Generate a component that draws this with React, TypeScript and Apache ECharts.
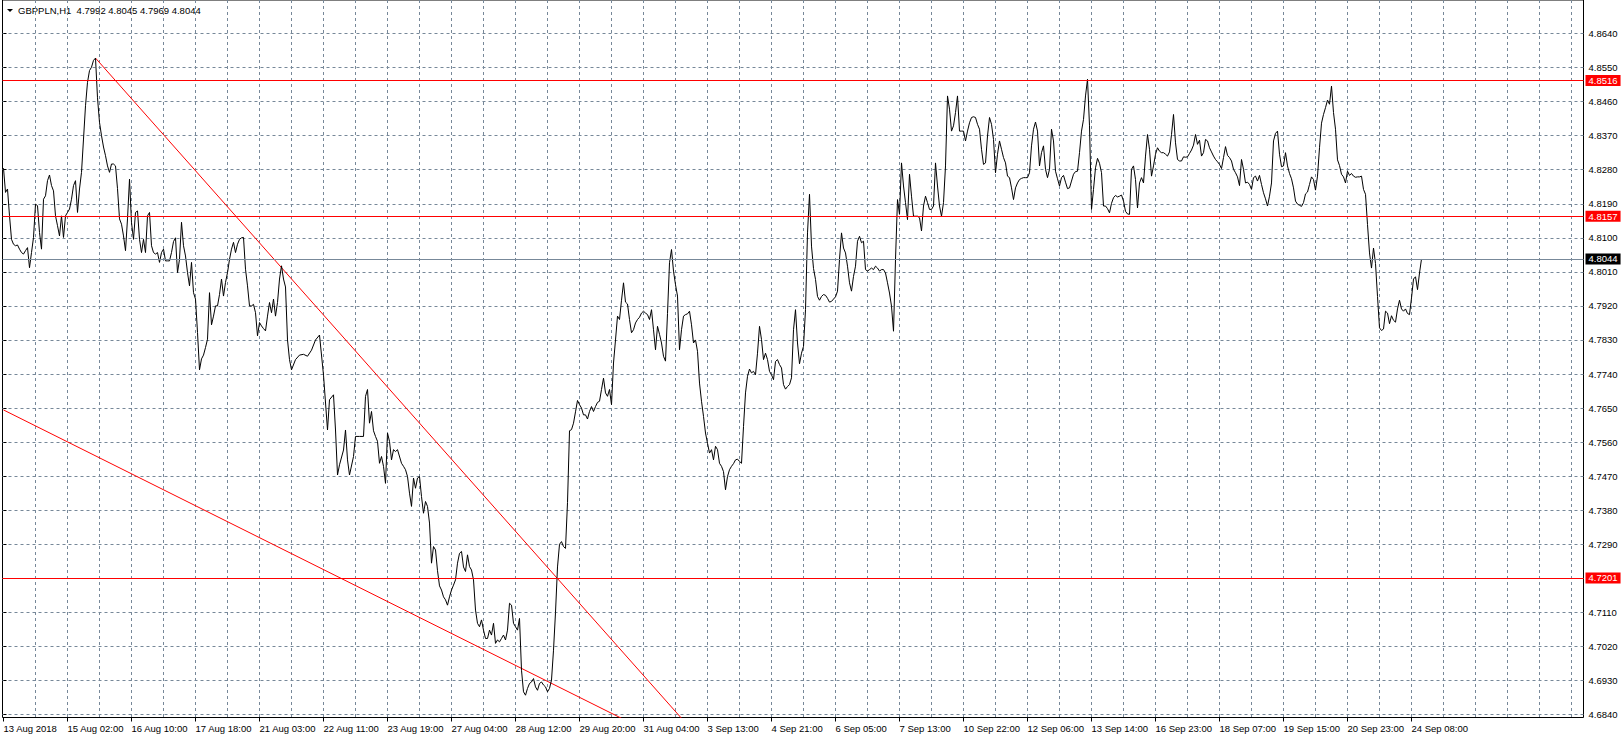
import React, { useEffect, useRef } from 'react';
import * as echarts from 'echarts';

// ---------- data ----------
const symbolName = 'GBPPLN,H1';
const lastOhlc = ['4.7992', '4.8045', '4.7969', '4.8044'];

// one label every 32 hourly bars (bar index 0, 32, 64, ...)
const timeLabels = [
  '13 Aug 2018', '15 Aug 02:00', '16 Aug 10:00', '17 Aug 18:00', '21 Aug 03:00',
  '22 Aug 11:00', '23 Aug 19:00', '27 Aug 04:00', '28 Aug 12:00', '29 Aug 20:00',
  '31 Aug 04:00', '3 Sep 13:00', '4 Sep 21:00', '6 Sep 05:00', '7 Sep 13:00',
  '10 Sep 22:00', '12 Sep 06:00', '13 Sep 14:00', '16 Sep 23:00', '18 Sep 07:00',
  '19 Sep 15:00', '20 Sep 23:00', '24 Sep 08:00',
];

const priceTicks = [
  4.6840, 4.6930, 4.7020, 4.7110, 4.7200, 4.7290, 4.7380, 4.7470, 4.7560, 4.7650,
  4.7740, 4.7830, 4.7920, 4.8010, 4.8100, 4.8190, 4.8280, 4.8370, 4.8460, 4.8550, 4.8640,
];
const hiddenPriceLabel = 4.7200;

const levelLines = [4.8516, 4.8157, 4.7201];
const bidPrice = 4.8044;

// trend lines: [bar index, price] anchors read at the chart edges
const upperTrend = [[46, 4.8575], [339, 4.6830]];
const lowerTrend = [[0, 4.7645], [309, 4.6830]];

// hourly closes: [bar index, close]
const closes: [number, number][] = [
  [0, 4.8284], [1, 4.8220], [2, 4.8229], [3, 4.8158], [4, 4.8096], [5, 4.8083], [6, 4.8079], [7, 4.8081],
  [8, 4.8070], [9, 4.8061], [10, 4.8057], [11, 4.8066], [12, 4.8074], [13, 4.8021], [14, 4.8061], [15, 4.8101],
  [16, 4.8189], [17, 4.8185], [18, 4.8114], [19, 4.8070], [20, 4.8202], [21, 4.8211], [22, 4.8251], [23, 4.8266],
  [24, 4.8238], [25, 4.8224], [26, 4.8158], [27, 4.8132], [28, 4.8105], [29, 4.8158], [30, 4.8101], [31, 4.8158],
  [32, 4.8167], [33, 4.8176], [34, 4.8202], [35, 4.8238], [36, 4.8251], [37, 4.8167], [38, 4.8229], [39, 4.8273],
  [40, 4.8361], [41, 4.8449], [42, 4.8511], [43, 4.8542], [44, 4.8551], [45, 4.8569], [46, 4.8575], [47, 4.8470],
  [48, 4.8405], [49, 4.8370], [50, 4.8340], [51, 4.8317], [52, 4.8290], [53, 4.8273], [54, 4.8295], [55, 4.8295],
  [56, 4.8290], [57, 4.8230], [58, 4.8150], [59, 4.8136], [60, 4.8105], [61, 4.8066], [62, 4.8150], [63, 4.8255],
  [64, 4.8140], [65, 4.8096], [66, 4.8167], [67, 4.8171], [68, 4.8096], [69, 4.8061], [70, 4.8096], [71, 4.8061],
  [72, 4.8158], [73, 4.8167], [74, 4.8079], [75, 4.8061], [76, 4.8057], [77, 4.8061], [78, 4.8035], [79, 4.8061],
  [80, 4.8070], [81, 4.8039], [82, 4.8039], [83, 4.8039], [84, 4.8061], [85, 4.8090], [86, 4.8100], [87, 4.8008],
  [88, 4.8043], [89, 4.8141], [90, 4.8079], [91, 4.8052], [92, 4.8008], [93, 4.7973], [94, 4.8035], [95, 4.7955],
  [96, 4.7938], [97, 4.7850], [98, 4.7751], [99, 4.7780], [100, 4.7790], [101, 4.7810], [102, 4.7832], [103, 4.7955],
  [104, 4.7870], [105, 4.7893], [106, 4.7920], [107, 4.7920], [108, 4.7950], [109, 4.7991], [110, 4.7946], [111, 4.7982],
  [112, 4.8008], [113, 4.8043], [114, 4.8070], [115, 4.8088], [116, 4.8061], [117, 4.8083], [118, 4.8096], [119, 4.8100],
  [120, 4.8101], [121, 4.8017], [122, 4.7973], [123, 4.7920], [124, 4.7920], [125, 4.7924], [126, 4.7902], [127, 4.7841],
  [128, 4.7876], [129, 4.7867], [130, 4.7860], [131, 4.7854], [132, 4.7893], [133, 4.7929], [134, 4.7902], [135, 4.7938],
  [136, 4.7893], [137, 4.7929], [138, 4.7991], [139, 4.8026], [140, 4.7991], [141, 4.7970], [142, 4.7830], [143, 4.7778],
  [144, 4.7751], [146, 4.7778], [148, 4.7790], [150, 4.7792], [152, 4.7787], [154, 4.7803], [156, 4.7830], [158, 4.7843],
  [160, 4.7737], [162, 4.7592], [163, 4.7672], [165, 4.7685], [166, 4.7592], [167, 4.7473], [168, 4.7500], [170, 4.7539],
  [171, 4.7592], [172, 4.7513], [173, 4.7473], [175, 4.7522], [176, 4.7575], [178, 4.7575], [180, 4.7575], [181, 4.7681],
  [182, 4.7699], [183, 4.7610], [184, 4.7641], [185, 4.7590], [186, 4.7575], [187, 4.7562], [188, 4.7504], [189, 4.7522],
  [190, 4.7496], [191, 4.7451], [192, 4.7584], [193, 4.7562], [194, 4.7513], [195, 4.7540], [196, 4.7535], [197, 4.7540],
  [199, 4.7504], [200, 4.7496], [201, 4.7487], [202, 4.7469], [203, 4.7425], [204, 4.7390], [205, 4.7465], [206, 4.7438],
  [207, 4.7465], [208, 4.7469], [209, 4.7416], [210, 4.7372], [211, 4.7403], [212, 4.7390], [213, 4.7346], [214, 4.7240],
  [215, 4.7284], [216, 4.7275], [217, 4.7220], [218, 4.7180], [219, 4.7169], [220, 4.7151], [221, 4.7143], [222, 4.7129],
  [223, 4.7151], [224, 4.7169], [225, 4.7182], [226, 4.7196], [227, 4.7240], [228, 4.7266], [229, 4.7271], [230, 4.7230],
  [231, 4.7218], [232, 4.7262], [233, 4.7231], [234, 4.7222], [235, 4.7196], [236, 4.7116], [237, 4.7081], [238, 4.7072],
  [239, 4.7090], [240, 4.7063], [241, 4.7041], [242, 4.7041], [243, 4.7063], [244, 4.7050], [245, 4.7081], [246, 4.7028],
  [247, 4.7037], [248, 4.7032], [249, 4.7041], [250, 4.7050], [251, 4.7037], [252, 4.7063], [253, 4.7134], [254, 4.7129],
  [255, 4.7081], [256, 4.7072], [257, 4.7063], [258, 4.7094], [259, 4.6957], [260, 4.6900], [261, 4.6891], [262, 4.6909],
  [263, 4.6922], [264, 4.6926], [265, 4.6935], [266, 4.6913], [267, 4.6904], [268, 4.6922], [269, 4.6926], [270, 4.6918],
  [271, 4.6913], [272, 4.6900], [273, 4.6909], [274, 4.6931], [275, 4.7010], [276, 4.7110], [277, 4.7230], [278, 4.7290],
  [279, 4.7297], [280, 4.7284], [281, 4.7279], [282, 4.7400], [283, 4.7590], [284, 4.7593], [285, 4.7610], [286, 4.7640],
  [287, 4.7670], [288, 4.7659], [289, 4.7650], [290, 4.7632], [291, 4.7632], [292, 4.7621], [293, 4.7641], [294, 4.7654],
  [295, 4.7641], [296, 4.7654], [297, 4.7665], [298, 4.7668], [299, 4.7699], [300, 4.7729], [301, 4.7690], [302, 4.7681],
  [303, 4.7699], [304, 4.7659], [305, 4.7769], [306, 4.7830], [307, 4.7893], [308, 4.7884], [309, 4.7935], [310, 4.7981],
  [311, 4.7930], [312, 4.7925], [313, 4.7884], [314, 4.7849], [315, 4.7857], [316, 4.7875], [317, 4.7884], [318, 4.7890],
  [319, 4.7901], [320, 4.7906], [321, 4.7901], [322, 4.7897], [323, 4.7884], [324, 4.7910], [325, 4.7857], [326, 4.7804],
  [327, 4.7866], [328, 4.7845], [329, 4.7822], [330, 4.7787], [331, 4.7774], [332, 4.7900], [333, 4.8034], [334, 4.8069],
  [335, 4.8012], [336, 4.7976], [337, 4.7946], [338, 4.7804], [339, 4.7857], [340, 4.7893], [341, 4.7897], [342, 4.7899],
  [343, 4.7906], [344, 4.7870], [345, 4.7822], [346, 4.7830], [347, 4.7800], [348, 4.7716], [349, 4.7668], [350, 4.7628],
  [351, 4.7584], [352, 4.7557], [353, 4.7531], [354, 4.7540], [355, 4.7513], [356, 4.7549], [357, 4.7540], [358, 4.7504],
  [359, 4.7496], [360, 4.7482], [361, 4.7434], [362, 4.7469], [363, 4.7487], [364, 4.7496], [365, 4.7503], [366, 4.7513],
  [367, 4.7515], [368, 4.7509], [369, 4.7504], [370, 4.7601], [371, 4.7690], [372, 4.7734], [373, 4.7753], [374, 4.7743],
  [375, 4.7747], [376, 4.7738], [377, 4.7795], [378, 4.7866], [379, 4.7831], [380, 4.7778], [381, 4.7795], [382, 4.7778],
  [383, 4.7747], [384, 4.7738], [385, 4.7725], [386, 4.7773], [387, 4.7778], [388, 4.7765], [389, 4.7756], [390, 4.7712],
  [391, 4.7700], [392, 4.7707], [393, 4.7712], [394, 4.7730], [395, 4.7857], [396, 4.7910], [397, 4.7822], [398, 4.7767],
  [399, 4.7795], [400, 4.7813], [401, 4.7910], [402, 4.8113], [403, 4.8215], [404, 4.8078], [405, 4.8019], [406, 4.7990],
  [407, 4.7945], [408, 4.7935], [409, 4.7945], [410, 4.7950], [411, 4.7948], [412, 4.7940], [413, 4.7930], [414, 4.7932],
  [415, 4.7938], [416, 4.7944], [417, 4.7959], [418, 4.8043], [419, 4.8113], [420, 4.8073], [421, 4.8060], [422, 4.8025],
  [423, 4.7981], [424, 4.7959], [425, 4.7998], [426, 4.8025], [427, 4.8091], [428, 4.8104], [429, 4.8087], [430, 4.8091],
  [431, 4.8016], [432, 4.8012], [433, 4.8016], [434, 4.8020], [435, 4.8016], [436, 4.8025], [437, 4.8020], [438, 4.8012],
  [439, 4.8016], [440, 4.8016], [441, 4.8007], [442, 4.7981], [443, 4.7954], [444, 4.7919], [445, 4.7853], [446, 4.8043],
  [447, 4.8201], [448, 4.8162], [449, 4.8298], [450, 4.8237], [451, 4.8193], [452, 4.8148], [453, 4.8268], [454, 4.8210],
  [455, 4.8157], [456, 4.8157], [457, 4.8157], [458, 4.8153], [459, 4.8118], [460, 4.8184], [461, 4.8210], [462, 4.8193],
  [463, 4.8175], [464, 4.8175], [465, 4.8184], [466, 4.8298], [467, 4.8237], [468, 4.8184], [469, 4.8157], [470, 4.8193],
  [471, 4.8290], [472, 4.8475], [473, 4.8440], [474, 4.8382], [475, 4.8396], [476, 4.8431], [477, 4.8475], [478, 4.8382],
  [479, 4.8382], [480, 4.8382], [481, 4.8356], [482, 4.8382], [483, 4.8404], [484, 4.8418], [485, 4.8420], [486, 4.8418],
  [487, 4.8400], [488, 4.8387], [489, 4.8334], [490, 4.8294], [491, 4.8298], [492, 4.8369], [493, 4.8418], [494, 4.8400],
  [495, 4.8360], [496, 4.8272], [497, 4.8321], [498, 4.8356], [499, 4.8334], [500, 4.8312], [501, 4.8298], [502, 4.8263],
  [503, 4.8259], [504, 4.8232], [505, 4.8201], [506, 4.8232], [507, 4.8245], [508, 4.8254], [509, 4.8257], [510, 4.8259],
  [511, 4.8259], [512, 4.8259], [513, 4.8272], [514, 4.8343], [515, 4.8387], [516, 4.8406], [517, 4.8382], [518, 4.8290],
  [519, 4.8325], [520, 4.8343], [521, 4.8281], [522, 4.8259], [523, 4.8281], [524, 4.8387], [525, 4.8356], [526, 4.8276],
  [527, 4.8256], [528, 4.8237], [529, 4.8259], [530, 4.8265], [531, 4.8247], [532, 4.8230], [533, 4.8232], [534, 4.8250],
  [535, 4.8268], [536, 4.8275], [537, 4.8276], [538, 4.8325], [539, 4.8382], [540, 4.8413], [541, 4.8475], [542, 4.8519],
  [543, 4.8396], [544, 4.8175], [545, 4.8228], [546, 4.8285], [547, 4.8310], [548, 4.8297], [549, 4.8272], [550, 4.8184],
  [551, 4.8184], [552, 4.8177], [553, 4.8166], [554, 4.8191], [555, 4.8206], [556, 4.8212], [557, 4.8208], [558, 4.8210],
  [559, 4.8213], [560, 4.8197], [561, 4.8170], [562, 4.8163], [563, 4.8162], [564, 4.8281], [565, 4.8290], [566, 4.8254],
  [567, 4.8179], [568, 4.8245], [569, 4.8259], [570, 4.8245], [571, 4.8316], [572, 4.8373], [573, 4.8334], [574, 4.8263],
  [575, 4.8290], [576, 4.8321], [577, 4.8338], [578, 4.8329], [579, 4.8325], [580, 4.8325], [581, 4.8321], [582, 4.8316],
  [583, 4.8327], [584, 4.8373], [585, 4.8426], [586, 4.8351], [587, 4.8307], [588, 4.8303], [589, 4.8303], [590, 4.8314],
  [591, 4.8313], [592, 4.8314], [593, 4.8323], [594, 4.8332], [595, 4.8345], [596, 4.8373], [597, 4.8347], [598, 4.8358],
  [599, 4.8316], [600, 4.8325], [601, 4.8360], [602, 4.8356], [603, 4.8338], [604, 4.8327], [605, 4.8316], [606, 4.8307],
  [607, 4.8301], [608, 4.8294], [609, 4.8283], [610, 4.8312], [611, 4.8341], [612, 4.8318], [613, 4.8312], [614, 4.8303],
  [615, 4.8281], [616, 4.8272], [617, 4.8261], [618, 4.8238], [619, 4.8307], [620, 4.8281], [621, 4.8245], [622, 4.8247],
  [623, 4.8241], [624, 4.8228], [625, 4.8259], [626, 4.8263], [627, 4.8250], [628, 4.8265], [629, 4.8241], [630, 4.8219],
  [631, 4.8203], [632, 4.8184], [633, 4.8210], [634, 4.8245], [635, 4.8356], [636, 4.8376], [637, 4.8382], [638, 4.8321],
  [639, 4.8288], [640, 4.8290], [641, 4.8325], [642, 4.8290], [643, 4.8270], [644, 4.8256], [645, 4.8232], [646, 4.8197],
  [647, 4.8189], [648, 4.8186], [649, 4.8183], [650, 4.8193], [651, 4.8216], [652, 4.8221], [653, 4.8241], [654, 4.8261],
  [655, 4.8254], [656, 4.8226], [657, 4.8263], [658, 4.8338], [659, 4.8403], [660, 4.8426], [661, 4.8444], [662, 4.8464],
  [663, 4.8453], [664, 4.8501], [665, 4.8431], [666, 4.8387], [667, 4.8306], [668, 4.8291], [669, 4.8268], [670, 4.8261],
  [671, 4.8245], [672, 4.8276], [673, 4.8265], [674, 4.8270], [675, 4.8263], [676, 4.8260], [677, 4.8261], [678, 4.8261],
  [679, 4.8263], [680, 4.8228], [681, 4.8215], [682, 4.8135], [683, 4.8060], [684, 4.8020], [685, 4.8073], [686, 4.8032],
  [687, 4.7945], [688, 4.7862], [689, 4.7855], [690, 4.7859], [691, 4.7906], [692, 4.7901], [693, 4.7873], [694, 4.7894],
  [695, 4.7882], [696, 4.7877], [697, 4.7912], [698, 4.7935], [699, 4.7912], [700, 4.7906], [701, 4.7912], [702, 4.7900],
  [703, 4.7897], [704, 4.7941], [705, 4.7991], [706, 4.7997], [707, 4.7963], [708, 4.8007], [709, 4.8044],
];

// ---------- presentation ----------
const GRID_COLOR = '#778899';
const FONT = 'Liberation Sans, Arial, sans-serif';
const FS = 9.5;
const barsPerLabel = 32;
const barsPerGrid = 16;
const xMin = -0.5;
const xMax = 790;
const yMin = 4.683207;
const yMax = 4.872855;

export default function App() {
  const ref = useRef<HTMLDivElement>(null);

  useEffect(() => {
    if (!ref.current) return;
    const chart = echarts.init(ref.current, null, { renderer: 'svg' });

    const labelBars = timeLabels.map((_, i) => i * barsPerLabel);
    const gridBars: number[] = [];
    for (let b = barsPerGrid; b < xMax; b += barsPerGrid) gridBars.push(b);
    const yLabelValues = priceTicks.filter((v) => Math.abs(v - hiddenPriceLabel) > 1e-7);

    const boxLabel = (bg: string, v: number) => ({
      show: true,
      position: 'end',
      distance: 2,
      formatter: v.toFixed(4),
      color: '#ffffff',
      backgroundColor: bg,
      padding: [1, 3, 0, 3],
      fontFamily: FONT,
      fontSize: FS,
      lineHeight: 10,
    });

    const option: any = {
      animation: false,
      backgroundColor: '#ffffff',
      textStyle: { fontFamily: FONT },
      grid: {
        left: 2.5,
        right: 39.5,
        top: 0,
        bottom: 21.5,
        show: true,
        borderColor: '#000000',
        borderWidth: 1,
        backgroundColor: 'transparent',
      },
      graphic: [
        {
          type: 'polygon',
          shape: { points: [[7, 9], [13, 9], [10, 12]] },
          style: { fill: '#000000' },
          silent: true,
        },
        {
          type: 'text',
          x: 18,
          y: 10.5,
          style: {
            text: `${symbolName}  ${lastOhlc.join(' ')}`,
            fill: '#000000',
            font: `${FS}px ${FONT}`,
            verticalAlign: 'middle',
          },
          silent: true,
        },
      ],
      xAxis: [
        {
          type: 'value',
          min: xMin,
          max: xMax,
          position: 'bottom',
          axisLine: { show: false },
          axisTick: { show: false, customValues: gridBars },
          splitLine: { show: true, lineStyle: { color: GRID_COLOR, type: [3, 3], width: 1 } },
          axisLabel: {
            show: true,
            customValues: labelBars,
            formatter: (v: number) => timeLabels[Math.round(v / barsPerLabel)] ?? '',
            align: 'left',
            color: '#000000',
            fontFamily: FONT,
            fontSize: FS,
            margin: 6,
            showMinLabel: true,
            showMaxLabel: true,
            hideOverlap: false,
          },
        },
        {
          type: 'value',
          min: xMin,
          max: xMax,
          position: 'bottom',
          axisLine: { show: false },
          axisTick: { show: true, customValues: labelBars, length: 4, lineStyle: { color: '#000000' } },
          axisLabel: { show: false },
          splitLine: { show: false },
        },
      ],
      yAxis: {
        type: 'value',
        position: 'right',
        min: yMin,
        max: yMax,
        axisLine: { show: false },
        axisTick: { show: true, customValues: priceTicks, length: 3, lineStyle: { color: '#000000' } },
        splitLine: { show: true, lineStyle: { color: GRID_COLOR, type: [3, 3], width: 1 } },
        axisLabel: {
          show: true,
          customValues: yLabelValues,
          formatter: (v: number) => v.toFixed(4),
          color: '#000000',
          fontFamily: FONT,
          fontSize: FS,
          margin: 5,
          showMinLabel: true,
          showMaxLabel: true,
        },
      },
      series: [
        {
          name: 'upper trend',
          type: 'line',
          data: upperTrend,
          showSymbol: false,
          symbol: 'none',
          clip: true,
          lineStyle: { color: '#ff0000', width: 1 },
          silent: true,
          z: 3,
        },
        {
          name: 'lower trend',
          type: 'line',
          data: lowerTrend,
          showSymbol: false,
          symbol: 'none',
          clip: true,
          lineStyle: { color: '#ff0000', width: 1 },
          silent: true,
          z: 3,
        },
        {
          name: symbolName,
          type: 'line',
          data: closes,
          showSymbol: false,
          symbol: 'none',
          clip: true,
          lineStyle: { color: '#000000', width: 1 },
          silent: true,
          z: 4,
          markLine: {
            silent: true,
            precision: 4,
            symbol: ['none', 'none'],
            animation: false,
            data: [
              ...levelLines.map((v) => ({
                yAxis: v,
                lineStyle: { color: '#ff0000', type: 'solid', width: 1 },
                label: boxLabel('#ff0000', v),
              })),
              {
                yAxis: bidPrice,
                lineStyle: { color: GRID_COLOR, type: 'solid', width: 1 },
                label: boxLabel('#000000', bidPrice),
              },
            ],
          },
        },
      ],
    };

    chart.setOption(option);
    return () => chart.dispose();
  }, []);

  return (
    <div
      ref={ref}
      style={{ position: 'fixed', left: 0, top: 0, width: 1623, height: 739, background: '#ffffff' }}
    />
  );
}
